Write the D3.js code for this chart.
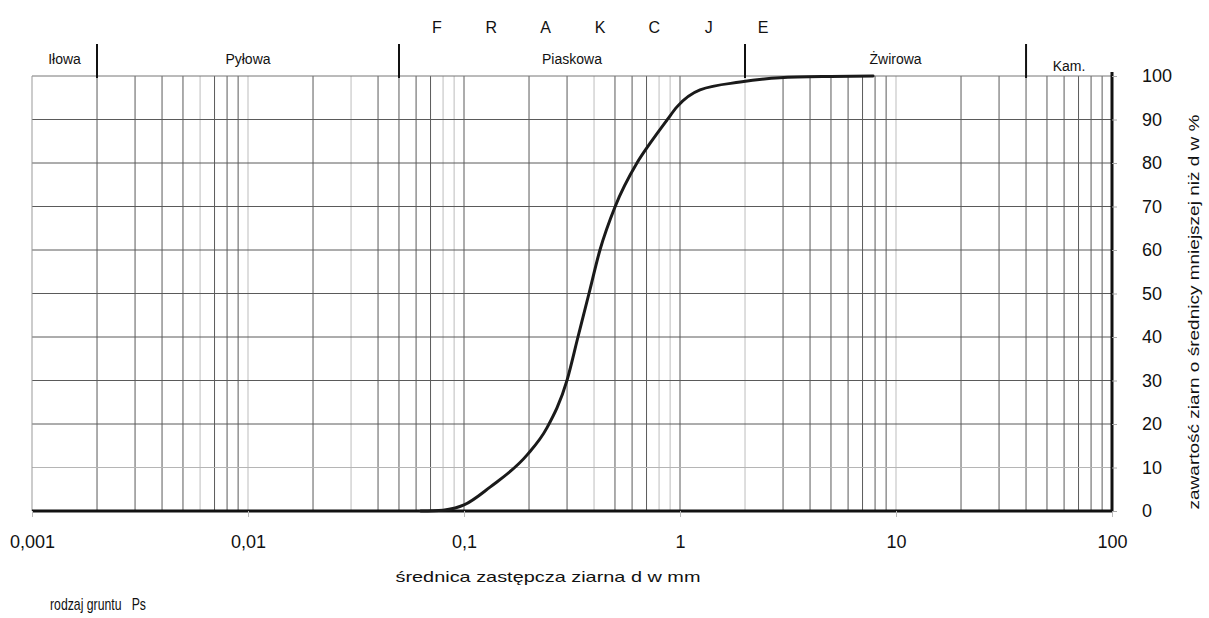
<!DOCTYPE html>
<html><head><meta charset="utf-8">
<script src="https://cdn.jsdelivr.net/npm/d3@7"></script>
<style>
body{margin:0;background:#fff}
text{font-family:"Liberation Sans",Arial,sans-serif;fill:#111}
</style>
</head><body>
<svg id="c" width="1209" height="618"></svg>
<script>
// ---- data ----
const diameters = [0.063, 0.08, 0.091, 0.1, 0.132, 0.196, 0.242, 0.300, 0.337, 0.379, 0.426, 0.500, 0.632, 0.726, 0.871, 0.968, 1.238, 1.90, 2.90, 5.0, 7.83];
const passing   = [0, 0.2, 0.7, 1.4, 5.5, 12.9, 19.1, 30.1, 40, 50, 60, 69.9, 80, 84.5, 89.9, 92.9, 96.8, 98.6, 99.6, 99.9, 100];
const xTickValues = [0.001, 0.01, 0.1, 1, 10, 100];
const xTickLabels = ["0,001", "0,01", "0,1", "1", "10", "100"];
const yTickValues = [0, 10, 20, 30, 40, 50, 60, 70, 80, 90, 100];
const fractionBounds = [0.001, 0.002, 0.05, 2, 40, 100];
const fractionNames = ["Iłowa", "Pyłowa", "Piaskowa", "Żwirowa", "Kam."];
const headerLetters = ["F", "R", "A", "K", "C", "J", "E"];
const lightGridD = [0.006, 0.01, 0.03, 0.08, 0.09, 0.4, 0.8, 0.9, 2, 10];
const lightGridP = [10];
const xTitle = "średnica zastępcza ziarna d w mm";
const yTitle = "zawartość ziarn o średnicy mniejszej niż d w %";
const soilLabel = "rodzaj gruntu", soilType = "Ps";

// ---- layout ----
const svg = d3.select("#c");
const L = 32, R = 1112, T = 76, B = 511;
const x = d3.scaleLog().domain([0.001, 100]).range([L, R]);
const y = d3.scaleLinear().domain([0, 100]).range([B, T]);

// vertical grid
const gridD = [];
[0.001, 0.01, 0.1, 1, 10].forEach(dec => { for (let m = 1; m <= 9; m++) gridD.push(+(dec * m).toPrecision(3)); });
const vGrid = gridD.filter(d => d > 0.001);
const isLightD = d => lightGridD.some(v => Math.abs(v - d) / v < 1e-6);
svg.append("g").selectAll("line").data(vGrid).join("line")
  .attr("x1", d => x(d)).attr("x2", d => x(d)).attr("y1", T).attr("y2", B)
  .attr("stroke", d => isLightD(d) ? "#bdbdbd" : "#5a5a5a").attr("stroke-width", 1);

// horizontal grid
svg.append("g").selectAll("line").data(yTickValues.filter(v => v > 0 && v < 100)).join("line")
  .attr("x1", L).attr("x2", R).attr("y1", d => y(d)).attr("y2", d => y(d))
  .attr("stroke", d => lightGridP.includes(d) ? "#b5b5b5" : "#5a5a5a").attr("stroke-width", 1);

// frame
svg.append("line").attr("x1", L).attr("x2", R).attr("y1", T).attr("y2", T).attr("stroke", "#777");
svg.append("line").attr("x1", L).attr("x2", L).attr("y1", T).attr("y2", B).attr("stroke", "#999");
svg.append("line").attr("x1", R).attr("x2", R).attr("y1", T - 4).attr("y2", B + 1).attr("stroke", "#111").attr("stroke-width", 3);
svg.append("line").attr("x1", L).attr("x2", R).attr("y1", B).attr("y2", B).attr("stroke", "#111").attr("stroke-width", 3);

// fraction dividers
svg.append("g").selectAll("line").data(fractionBounds.slice(1, -1)).join("line")
  .attr("x1", d => x(d)).attr("x2", d => x(d)).attr("y1", T - 32).attr("y2", T + 2)
  .attr("stroke", "#111").attr("stroke-width", 2);

// fraction names
svg.append("g").selectAll("text").data(fractionNames).join("text")
  .attr("x", (d, i) => (x(fractionBounds[i]) + x(fractionBounds[i + 1])) / 2 + (i === 3 ? 10 : 0))
  .attr("y", (d, i) => i === 4 ? T - 5 : T - 12)
  .attr("text-anchor", "middle").attr("font-size", 14).text(d => d);

// header letters
const letterX = d3.scalePoint().domain(headerLetters).range([437, 763]);
svg.append("g").selectAll("text").data(headerLetters).join("text")
  .attr("x", d => letterX(d)).attr("y", 33).attr("text-anchor", "middle")
  .attr("font-size", 16).text(d => d);

// x axis
const xAxis = svg.append("g").attr("transform", `translate(0,${B})`)
  .call(d3.axisBottom(x).tickValues(xTickValues).tickFormat((d, i) => xTickLabels[i]).tickSize(6).tickPadding(18));
xAxis.select(".domain").remove();
xAxis.selectAll("line").attr("stroke", "#bbb");
xAxis.selectAll("text").attr("font-size", 18).attr("fill", "#111");

// y axis (right)
const yAxis = svg.append("g").attr("transform", `translate(${R},0)`)
  .call(d3.axisRight(y).tickValues(yTickValues).tickSize(5).tickPadding(25));
yAxis.select(".domain").remove();
yAxis.selectAll("line").attr("stroke", "#aaa");
yAxis.selectAll("text").attr("font-size", 18).attr("fill", "#111");

// curve
const line = d3.line().x((d, i) => x(diameters[i])).y((d, i) => y(passing[i])).curve(d3.curveMonotoneX);
svg.append("path").datum(passing).attr("d", line)
  .attr("fill", "none").attr("stroke", "#1a1a1a").attr("stroke-width", 3).attr("stroke-linecap", "round");

// titles
svg.append("text").attr("x", 548).attr("y", 582).attr("text-anchor", "middle")
  .attr("font-size", 15).attr("textLength", 305).attr("lengthAdjust", "spacingAndGlyphs").text(xTitle);
svg.append("text").attr("transform", "translate(1199,312) rotate(-90)").attr("text-anchor", "middle")
  .attr("font-size", 14).attr("textLength", 395).attr("lengthAdjust", "spacingAndGlyphs").text(yTitle);
svg.append("text").attr("x", 50).attr("y", 610).attr("font-size", 17)
  .attr("xml:space", "preserve").style("white-space", "pre")
  .attr("textLength", 96).attr("lengthAdjust", "spacingAndGlyphs")
  .text(soilLabel + "   " + soilType);
</script>
</body></html>
